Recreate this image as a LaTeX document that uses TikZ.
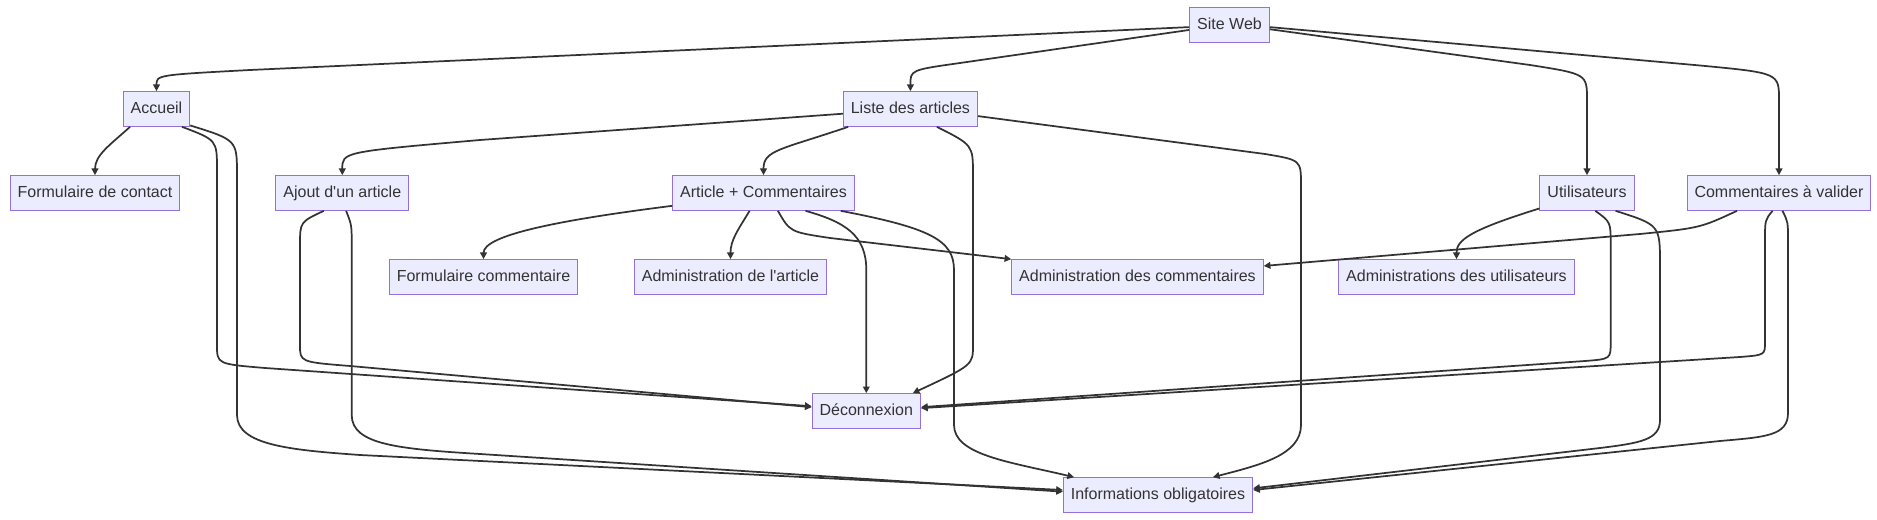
\documentclass[tikz,border=0pt]{standalone}
\usepackage{fontspec}
\setmainfont{Liberation Sans}
\usetikzlibrary{arrows.meta}
\definecolor{boxfill}{HTML}{ECECFF}
\definecolor{boxline}{HTML}{9370DB}
\definecolor{ink}{HTML}{333333}

\begin{document}
\begin{tikzpicture}[x=0.75pt,y=-0.75pt,
    box/.style={draw=boxline,fill=boxfill,line width=0.75pt,text=ink,
      inner xsep=5.6pt,inner ysep=0pt,minimum height=26pt,
      text height=8.6pt,text depth=2.4pt,font=\fontsize{12}{14}\selectfont},
    link/.style={draw=ink,line width=1.3pt,-{Triangle[length=5pt,width=5pt]}}]

  \useasboundingbox (0,0) rectangle (1877,520);

  \node[box] (site) at (1229.5,25) {Site Web};

  \node[box] (accueil) at (156.5,109) {Accueil};
  \node[box] (liste) at (910.4,109) {Liste des articles};

  \node[box] (contact) at (95,193) {Formulaire de contact};
  \node[box] (ajout) at (342.3,193) {Ajout d\textquotesingle un article};
  \node[box] (artcom) at (763.5,193) {Article + Commentaires};
  \node[box] (utilis) at (1587,193) {Utilisateurs};
  \node[box] (comval) at (1779,193) {Commentaires à valider};

  \node[box] (formcom) at (483.5,277) {Formulaire commentaire};
  \node[box] (admart) at (730.5,277) {Administration de l\textquotesingle article};
  \node[box] (admcom) at (1137.5,277) {Administration des commentaires};
  \node[box] (admuti) at (1456.5,277) {Administrations des utilisateurs};

  \node[box] (deco) at (866.3,411) {Déconnexion};
  \node[box] (infos) at (1158,495) {Informations obligatoires};

  % depuis le site
  \draw[link] (site.183) -- (250,70) .. controls (156.5,75) .. (accueil.north);
  \draw[link] (site.187) -- (960,63) .. controls (910.4,70) .. (liste.north);
  \draw[link] (site.-6) -- (1530,65) .. controls (1587,74) .. (1587,100) -- (utilis.north);
  \draw[link] (site.-3) -- (1700,65.5) .. controls (1779,73) .. (1779,100) -- (comval.north);

  % accueil
  \draw[link] (accueil.214) .. controls (110,145) and (95,155) .. (contact.north);
  \draw[link] (accueil.-35) .. controls (217,140) .. (217,170) -- (217,345) .. controls (217,364) .. (265,368) -- (deco.175);
  \draw[link] (accueil.-26) .. controls (237,140) .. (237,175) -- (237,415) .. controls (237,445) and (290,450) .. (360,455) -- (infos.177);

  % liste des articles
  \draw[link] (liste.184) -- (480,140) .. controls (342.3,152) .. (ajout.north);
  \draw[link] (liste.196) .. controls (780,150) and (763.5,150) .. (artcom.north);
  \draw[link] (liste.-34) .. controls (973,145) .. (973,175) -- (973,345) .. controls (973,365) .. (deco.21);
  \draw[link] (liste.-6) -- (1265,154) .. controls (1301,160) .. (1301,185) -- (1301,425) .. controls (1301,455) and (1260,465) .. (infos.18);

  % ajout d'un article
  \draw[link] (ajout.224) .. controls (300,222) .. (300,245) -- (300,345) .. controls (300,362) .. (350,366) -- (deco.176);
  \draw[link] (ajout.-78) .. controls (351.7,225) .. (351.7,245) -- (351.7,415) .. controls (351.7,445) and (400,449) .. (480,454) -- (infos.178);

  % article + commentaires
  \draw[link] (artcom.188) .. controls (560,220) and (483.5,235) .. (formcom.north);
  \draw[link] (artcom.232) .. controls (738,230) and (730.5,240) .. (admart.north);
  \draw[link] (artcom.-51) .. controls (790,232) .. (830,238) -- (admcom.north west);
  \draw[link] (artcom.-23) .. controls (845,222) and (866.3,235) .. (866.3,270) -- (deco.north);
  \draw[link] (artcom.-13) .. controls (930,228) and (954,240) .. (954,270) -- (954,425) .. controls (954,455) and (1010,462) .. (infos.168);

  % utilisateurs
  \draw[link] (utilis.198) .. controls (1470,230) and (1456.5,240) .. (admuti.north);
  \draw[link] (utilis.-65) .. controls (1610.7,222) .. (1610.7,245) -- (1610.7,342) .. controls (1610.7,359) .. (1585,361) -- (deco.4);
  \draw[link] (utilis.-32) .. controls (1660,225) .. (1660,265) -- (1660,420) .. controls (1660,440) and (1640,443) .. (1600,448) -- (infos.4);

  % commentaires a valider
  \draw[link] (comval.203) .. controls (1700,228) .. (1640,234) -- (admcom.5);
  \draw[link] (comval.250) .. controls (1765,220) .. (1765,240) -- (1765,342) .. controls (1765,355) .. (1740,357) -- (deco.3);
  \draw[link] (comval.-79) .. controls (1788,222) .. (1788,240) -- (1788,413) .. controls (1788,436) and (1765,437) .. (1720,441) -- (infos.3);

\end{tikzpicture}
\end{document}
